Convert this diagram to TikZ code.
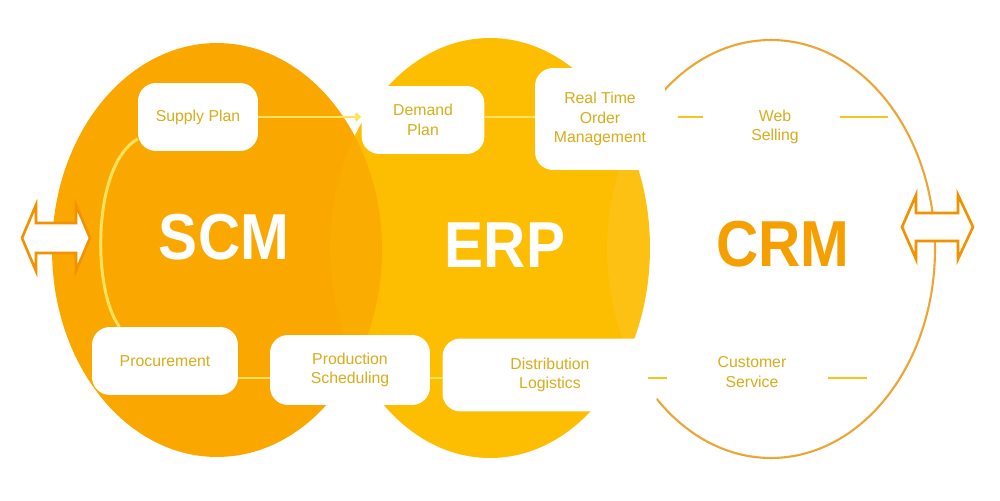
\documentclass[tikz,border=0pt]{standalone}
\usepackage{fontspec}
\setmainfont{Liberation Sans}
\usetikzlibrary{arrows.meta}

\definecolor{scmorange}{HTML}{FAA800}
\definecolor{erpyellow}{HTML}{FDBD00}
\definecolor{crmline}{HTML}{EBA12A}
\definecolor{crmtext}{HTML}{F5A000}
\definecolor{linkyellow}{HTML}{FFE35E}
\definecolor{stubyellow}{HTML}{F4C61C}
\definecolor{labelgold}{HTML}{D9AC1A}
\definecolor{arroworange}{HTML}{F39200}

\begin{document}
\begin{tikzpicture}[x=0.02cm, y=-0.02cm,
  module/.style={fill=white, rounded corners=0.36cm, text=labelgold,
    font=\fontsize{9}{11}\selectfont, align=center, inner sep=0pt},
  freetext/.style={text=labelgold, font=\fontsize{9}{11}\selectfont, align=center},
  bigname/.style={font=\bfseries\fontsize{37}{37}\selectfont},
  link/.style={draw=linkyellow, line width=1.7pt},
  stub/.style={draw=stubyellow, line width=1.7pt},
  sidearrow/.style={draw=arroworange, fill=white, line width=1.5pt, line join=miter}]
   % Sizes
   \pgfmathsetmacro{\boxh}{1.36}
   \pgfmathsetmacro{\boxhh}{1.46}
   \useasboundingbox (0,0) rectangle (1000,500);

   % circles
   \draw[crmline, line width=1.2pt] (771,249) ellipse [x radius=3.28cm, y radius=4.18cm];
   \fill[erpyellow] (490,248) ellipse [x radius=3.2cm, y radius=4.2cm];
   \fill[white, opacity=0.1] (771,249) ellipse [x radius=3.28cm, y radius=4.18cm];
   \fill[scmorange] (217,250) ellipse [x radius=3.3cm, y radius=4.14cm];
   \fill[erpyellow, opacity=0.2] (490,248) ellipse [x radius=3.2cm, y radius=4.2cm];

   % modules
   \node[module, minimum width=2.4cm, minimum height=\boxh cm] (supply) at (198,117) {Supply Plan};
   \node[module, minimum width=2.46cm, minimum height=\boxh cm] (demand) at (423,120) {Demand\\Plan};
   \node[module, minimum width=2.6cm, minimum height=2.04cm] (realtime) at (600,119) {Real Time\\Order\\Management};
   \node[module, minimum width=2.92cm, minimum height=\boxh cm] (procure) at (165,361) {Procurement};
   \node[module, minimum width=3.2cm, minimum height=1.4cm] (prodsched) at (350,370) {Production\\Scheduling};
   \node[module, minimum width=4.3cm, minimum height=\boxhh cm] (distrib) at (550,375) {Distribution\\Logistics};
   \node[freetext] (web) at (775,127) {Web\\Selling};
   \node[freetext] (custserv) at (752,372) {Customer\\Service};

   % stubs
   \coordinate (wsA) at (678,117);
   \coordinate (wsB) at (703,117);
   \coordinate (wsC) at (840,117);
   \coordinate (wsD) at (888,117);
   \coordinate (csA) at (648,378);
   \coordinate (csB) at (667,378);
   \coordinate (csC) at (828,378);
   \coordinate (csD) at (867,378);

   % links
   \draw[link, -{Straight Barb[length=2pt, width=4pt]}] (supply.east) -- (supply.east -| demand.west);
   \draw[link] (demand.east |- 0,117) -- (realtime.west |- 0,117);
   \draw[link] (procure.east |- 0,378) -- (prodsched.west |- 0,378);
   \draw[link] (prodsched.east |- 0,378) -- (distrib.west |- 0,378);
   \draw[link] (supply.200) .. controls (92,165) and (92,290) .. (procure.143);
   \draw[stub] (wsA) -- (wsB);
   \draw[stub] (wsC) -- (wsD);
   \draw[stub] (csA) -- (csB);
   \draw[stub] (csC) -- (csD);

   % labels
   \node[bigname, text=white] (scm) at (224,237) {\scalebox{0.9}[1]{SCM}};
   \node[bigname, text=white] (erp) at (505,245) {\scalebox{0.9}[1]{ERP}};
   \node[bigname, text=crmtext] (crm) at (783,244) {\scalebox{0.9}[1]{CRM}};

   % side arrows
   \draw[sidearrow] (22,238) -- (36,205) -- (36,223) -- (76,223) -- (76,205)
     -- (90,238) -- (76,271) -- (76,253) -- (36,253) -- (36,271) -- cycle;
   \draw[sidearrow] (902,227) -- (916,195) -- (916,213) -- (958,213) -- (958,195)
     -- (973,227) -- (958,259) -- (958,241) -- (916,241) -- (916,259) -- cycle;
\end{tikzpicture}
\end{document}
